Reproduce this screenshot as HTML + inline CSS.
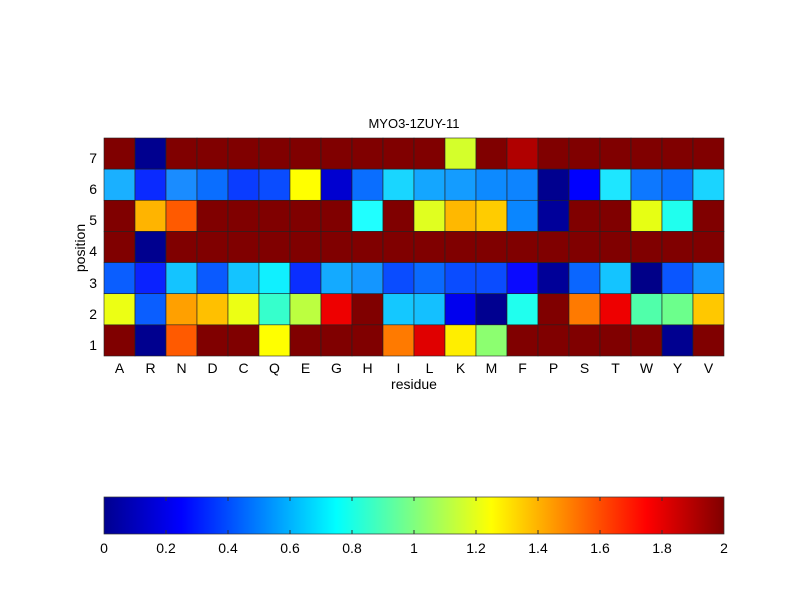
<!DOCTYPE html>
<html><head><style>
body{margin:0;background:#fff;}
svg text{font-family:"Liberation Sans",sans-serif;fill:#000;}
</style></head><body>
<svg width="800" height="600" xmlns="http://www.w3.org/2000/svg">
<defs>
<linearGradient id="jet" x1="0" x2="1" y1="0" y2="0">
<stop offset="0" stop-color="#00008f"/>
<stop offset="0.125" stop-color="#0000ff"/>
<stop offset="0.375" stop-color="#00ffff"/>
<stop offset="0.625" stop-color="#ffff00"/>
<stop offset="0.875" stop-color="#ff0000"/>
<stop offset="1" stop-color="#800000"/>
</linearGradient>
</defs>
<rect width="800" height="600" fill="#fff"/>
<text x="414" y="128" font-size="13" text-anchor="middle">MYO3-1ZUY-11</text>
<g id="grid" stroke="#222" stroke-width="0.6"></g>
<g font-size="14" text-anchor="end">
<text x="97" y="163">7</text><text x="97" y="194">6</text><text x="97" y="225">5</text><text x="97" y="256">4</text><text x="97" y="288">3</text><text x="97" y="319">2</text><text x="97" y="350">1</text>
</g>
<g id="xl" font-size="14" text-anchor="middle"></g>
<text x="414" y="389" font-size="14" text-anchor="middle">residue</text>
<text transform="translate(85,248) rotate(-90)" font-size="14" text-anchor="middle">position</text>
<rect x="104" y="497" width="620" height="37" fill="url(#jet)" stroke="#333" stroke-width="0.7"/>
<g id="cb" font-size="14" text-anchor="middle"></g>
</svg>
<script>
var D='#800000';
var rows=[
[D,'#00008f',D,D,D,D,D,D,D,D,D,'#d4ff2b',D,'#b00000',D,D,D,D,D,D],
['#1ab0ff','#0a2aff','#1a8cff','#0a6eff','#0a3cff','#0a4cff','#ffff00','#0000d0','#0a6eff','#19d6ff','#14a6ff','#149cff','#0d8aff','#0d84ff','#00008f','#0000ff','#1ee6ff','#0d78ff','#0a6eff','#1ad4ff'],
[D,'#ffb400','#ff5a00',D,D,D,D,D,'#20ffff',D,'#e0ff20','#ffb800','#ffcc00','#0a86ff','#00009a',D,D,'#e6ff14','#20ffee',D],
[D,'#00008f',D,D,D,D,D,D,D,D,D,D,D,D,D,D,D,D,D,D],
['#0a5eff','#0a22ff','#14c4ff','#0a5aff','#14c4ff','#10f0ff','#0a2eff','#14aaff','#1496ff','#0a4cff','#0a6aff','#0a4cff','#0a4cff','#0a0aff','#000098','#0a66ff','#14c4ff','#000088','#0a56ff','#1496ff'],
['#ecff14','#0a5eff','#ffa000','#ffc000','#ecff14','#36ffcc','#bcff40','#ee0000',D,'#14c8ff','#14c0ff','#0000ee','#000090','#20ffee',D,'#ff7a00','#ee0000','#50ffaa','#6cff8c','#ffc800'],
[D,'#00008f','#ff5a00',D,D,'#ffff00',D,D,D,'#ff7a00','#e00000','#ffee00','#8cff70',D,D,D,D,D,'#000090',D]];
var ns='http://www.w3.org/2000/svg',g=document.getElementById('grid');
var cw=31,rh=218/7;
rows.forEach(function(r,i){r.forEach(function(c,j){var e=document.createElementNS(ns,'rect');
e.setAttribute('x',104+j*cw);e.setAttribute('y',138+i*rh);e.setAttribute('width',cw);e.setAttribute('height',rh);e.setAttribute('fill',c);g.appendChild(e);});});
var L='ARNDCQEGHILKMFPSTWYV'.split(''),xl=document.getElementById('xl');
L.forEach(function(l,j){var t=document.createElementNS(ns,'text');t.setAttribute('x',104+j*cw+cw/2);t.setAttribute('y',373);t.textContent=l;xl.appendChild(t);});
var cb=document.getElementById('cb');
['0','0.2','0.4','0.6','0.8','1','1.2','1.4','1.6','1.8','2'].forEach(function(l,k){var x=104+k*62;
var t=document.createElementNS(ns,'text');t.setAttribute('x',x);t.setAttribute('y',553);t.textContent=l;cb.appendChild(t);
if(k>0&&k<10){[[497,501],[530,534]].forEach(function(p){var ln=document.createElementNS(ns,'line');ln.setAttribute('x1',x);ln.setAttribute('x2',x);ln.setAttribute('y1',p[0]);ln.setAttribute('y2',p[1]);ln.setAttribute('stroke','#333');cb.appendChild(ln);});}});
</script>
</body></html>
